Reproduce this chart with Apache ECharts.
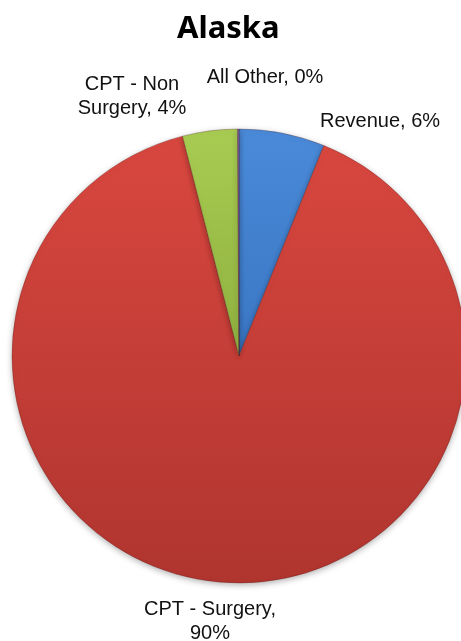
<!DOCTYPE html>
<html>
<head>
<meta charset="utf-8">
<script src="https://cdn.jsdelivr.net/npm/echarts@6/dist/echarts.min.js"></script>
<style>
html,body{margin:0;padding:0;background:#fff;}
#chart{width:461px;height:641px;}
</style>
</head>
<body>
<div id="chart"></div>
<script>
const titleText = 'Alaska';
const categories = ['Revenue', 'CPT - Surgery', 'CPT - Non Surgery', 'All Other'];
const labelTexts = ['Revenue, 6%', 'CPT - Surgery,\n90%', 'CPT - Non\nSurgery, 4%', 'All Other, 0%'];
const values = [6.1, 89.9, 3.9, 0.1];

function grad(top, bottom) {
  return new echarts.graphic.LinearGradient(0, 0, 0, 1, [
    {offset: 0, color: top},
    {offset: 1, color: bottom}
  ]);
}
const fills = [
  grad('#4A8AD8', '#3A76C4'),
  grad('#D8473F', '#B0352F'),
  grad('#A8CC52', '#8FB03F'),
  grad('#8064A2', '#6A5088')
];
const labelAnchors = [
  {x: 320, y: 121, align: 'left'},
  {x: 210, y: 621, align: 'center'},
  {x: 132, y: 96, align: 'center'},
  {x: 265, y: 77, align: 'center'}
];

const chart = echarts.init(document.getElementById('chart'), null, {renderer: 'canvas'});
chart.setOption({
  animation: false,
  title: {
    text: titleText,
    left: 172,
    top: 9,
    textStyle: {fontFamily: 'Noto Sans', fontWeight: 'bold', fontSize: 31, color: '#000'}
  },
  series: [{
    type: 'pie',
    center: [239, 356],
    radius: 227,
    startAngle: 90,
    clockwise: true,
    avoidLabelOverlap: false,
    data: categories.map((c, i) => ({
      name: c,
      value: values[i],
      itemStyle: {color: fills[i]},
      label: {formatter: labelTexts[i]}
    })),
    itemStyle: {
      borderColor: 'rgba(80,20,20,0.35)',
      borderWidth: 0.8,
      shadowBlur: 6,
      shadowOffsetY: 2,
      shadowColor: 'rgba(0,0,0,0.3)'
    },
    label: {
      show: true,
      position: 'outside',
      fontFamily: 'Liberation Sans, Arial, sans-serif',
      fontSize: 20,
      lineHeight: 24,
      color: '#111'
    },
    labelLine: {show: false},
    labelLayout: function (p) {
      const a = labelAnchors[p.dataIndex];
      return {x: a.x, y: a.y, align: a.align, verticalAlign: 'middle', hideOverlap: false};
    },
    emphasis: {disabled: true}
  }]
});
</script>
</body>
</html>
